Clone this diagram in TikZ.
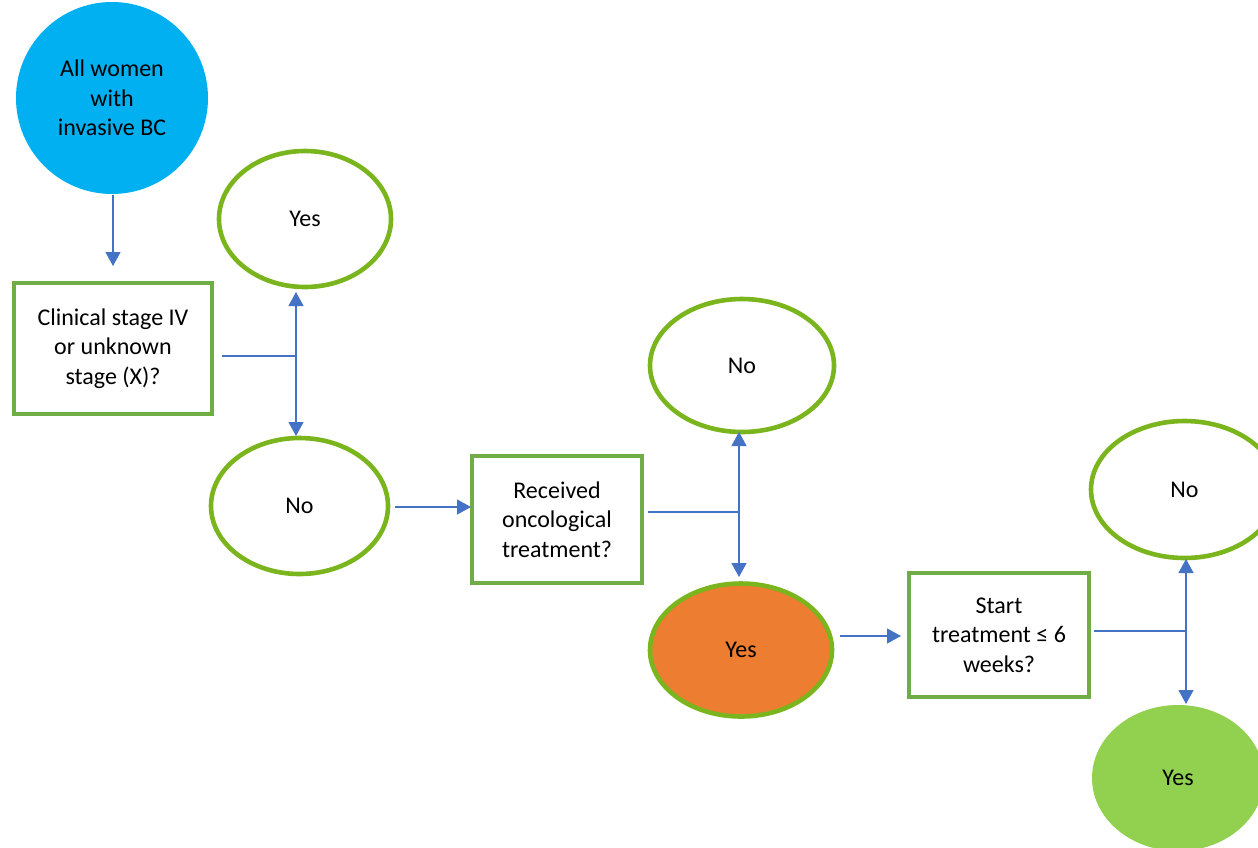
\documentclass[tikz,border=0pt]{standalone}
\usepackage{fontspec}
\setmainfont{Carlito}
\usetikzlibrary{shapes.geometric,arrows.meta}
\definecolor{startblue}{HTML}{00B0F0}
\definecolor{boxgreen}{HTML}{70AD47}
\definecolor{ringgreen}{HTML}{7AB51E}
\definecolor{linkblue}{HTML}{4472C4}
\definecolor{badorange}{HTML}{ED7D31}
\definecolor{goodgreen}{HTML}{92D050}
\tikzset{
  txt/.style={font=\fontsize{24}{29.5}\selectfont, align=center, text=black},
  qbox/.style={txt, draw=boxgreen, line width=3.6pt, rectangle, inner sep=0pt},
  answer/.style={txt, ellipse, draw=ringgreen, line width=4.6pt, inner sep=0pt},
  link/.style={draw=linkblue, line width=1.2pt},
  arr/.style={link, -{Triangle[length=14pt,width=15pt]}},
  twoway/.style={link, {Triangle[length=14pt,width=15pt]}-{Triangle[length=14pt,width=15pt]}},
}
\begin{document}
\begin{tikzpicture}[x=1pt,y=-1pt]
\useasboundingbox (0,0) rectangle (1258,847);
\clip (0,0) rectangle (1258,847);

% start population
\node[txt, circle, fill=startblue, minimum size=192pt, inner sep=0pt] (start) at (112,98)
  {All women\\with\\invasive BC};

% question boxes
\node[qbox, minimum width=198pt, minimum height=131pt] (q1) at (113,348.5)
  {Clinical stage IV\\or unknown\\stage (X)?};
\node[qbox, minimum width=170pt, minimum height=127pt] (q2) at (557,519.5)
  {Received\\oncological\\treatment?};
\node[qbox, minimum width=180pt, minimum height=124pt] (q3) at (999,635)
  {Start\\treatment ≤ 6\\weeks?};

% answers
\node[answer, minimum width=172pt, minimum height=136pt] (y1) at (305,219) {Yes};
\node[answer, minimum width=177pt, minimum height=136pt] (n1) at (299.5,506) {No};
\node[answer, minimum width=184pt, minimum height=133pt] (n2) at (742,365.5) {No};
\node[answer, fill=badorange, minimum width=182pt, minimum height=133pt] (y2) at (741,650) {Yes};
\node[answer, minimum width=187pt, minimum height=137pt] (n3) at (1184.5,489.5) {No};
\node[txt, ellipse, fill=goodgreen, minimum width=172pt, minimum height=146pt, inner sep=0pt] (y3) at (1178,778) {Yes};

% connector anchors
\coordinate (s1) at (113,195);
\coordinate (e1) at (113,266);
\coordinate (b1) at (222,356);
\coordinate (j1) at (296,356);
\coordinate (u1) at (296,292);
\coordinate (d1) at (296,436);
\coordinate (s2) at (395,507);
\coordinate (e2) at (471,507);
\coordinate (b2) at (648,512);
\coordinate (j2) at (739,512);
\coordinate (u2) at (739,432);
\coordinate (d2) at (739,577);
\coordinate (s3) at (840,636);
\coordinate (e3) at (901,636);
\coordinate (b3) at (1094,631);
\coordinate (j3) at (1186,631);
\coordinate (u3) at (1186,559);
\coordinate (d3) at (1186,704);

% connectors
\draw[arr] (s1) -- (e1);
\draw[link] (b1) -- (j1);
\draw[twoway] (u1) -- (d1);
\draw[arr] (s2) -- (e2);
\draw[link] (b2) -- (j2);
\draw[twoway] (u2) -- (d2);
\draw[arr] (s3) -- (e3);
\draw[link] (b3) -- (j3);
\draw[twoway] (u3) -- (d3);
\end{tikzpicture}
\end{document}
